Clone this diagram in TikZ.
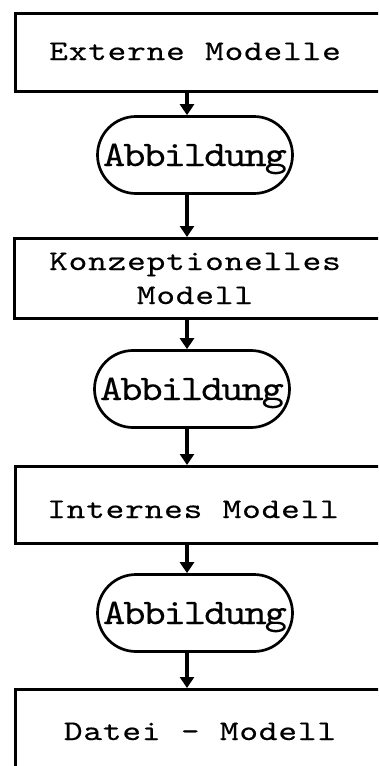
\documentclass[tikz,border=0pt]{standalone}
\usepackage{fontspec}
\usetikzlibrary{arrows.meta}

% broad typewriter faces for the level boxes and for the mapping ovals
\newfontfamily\typeface{lmmono10-regular}[Extension=.otf, FakeStretch=1.25, FakeBold=0.35]
\newfontfamily\typefaceoval{lmmono10-regular}[Extension=.otf, FakeStretch=1.18, FakeBold=0.2]

% Typewriter text: every character sits in a cell of fixed pitch
\makeatletter
\newlength\typepitch
\newcommand\typed[1]{\typed@#1\@nil}
\def\typed@#1{\ifx#1\@nil\else\makebox[\typepitch]{#1}\expandafter\typed@\fi}
\makeatother

\tikzset{
  frame/.style={draw, line width=3pt, rectangle, anchor=north west,
    minimum width=380pt, inner sep=0pt},
  typeline/.style={anchor=base, inner sep=0pt,
    font=\typeface\fontsize{28.5}{32}\selectfont\setlength\typepitch{19.5pt}},
  oval/.style={draw, line width=2.7pt, rectangle, rounded corners=38.5pt,
    minimum width=195pt, minimum height=77pt, inner sep=0pt,
    text height=22pt, text depth=0pt,
    font=\typefaceoval\fontsize{36}{40}\selectfont\setlength\typepitch{20.2pt}},
  flow/.style={line width=3.5pt, -{Triangle[width=14pt,length=11pt]}},
}

\begin{document}
\begin{tikzpicture}[x=1pt, y=-1pt]
\useasboundingbox (0,0) rectangle (378,766);
\clip (0,0) rectangle (378,766);
\coordinate (col) at (187,0);

% levels and mappings
\node[frame, minimum height=78pt] (b1) at (14,12) {};
\node[typeline] (t1) at (195,60) {\typed{Externe~Modelle}};

\node[oval] (s1) at (195,155) {\typed{Abbildung}};

\node[frame, minimum height=80pt] (b2) at (13,237) {};
\node[typeline] (t2a) at (195,270) {\typed{Konzeptionelles}};
\node[typeline] (t2b) at (195,304) {\typed{Modell}};

\node[oval] (s2) at (192,389) {\typed{Abbildung}};

\node[frame, minimum height=77pt] (b3) at (14,465) {};
\node[typeline] (t3) at (193,518) {\typed{Internes~Modell}};

\node[oval] (s3) at (195,613) {\typed{Abbildung}};

\node[frame, minimum height=92pt] (b4) at (14,688) {};
\node[typeline] (t4) at (200,740) {\typed{Datei~-~Modell}};

% connectors
\draw[flow] (b1.south -| col) -- (s1.north -| col);
\draw[flow] (s1.south -| col) -- (b2.north -| col);
\draw[flow] (b2.south -| col) -- (s2.north -| col);
\draw[flow] (s2.south -| col) -- (b3.north -| col);
\draw[flow] (b3.south -| col) -- (s3.north -| col);
\draw[flow] (s3.south -| col) -- (b4.north -| col);
\end{tikzpicture}
\end{document}
